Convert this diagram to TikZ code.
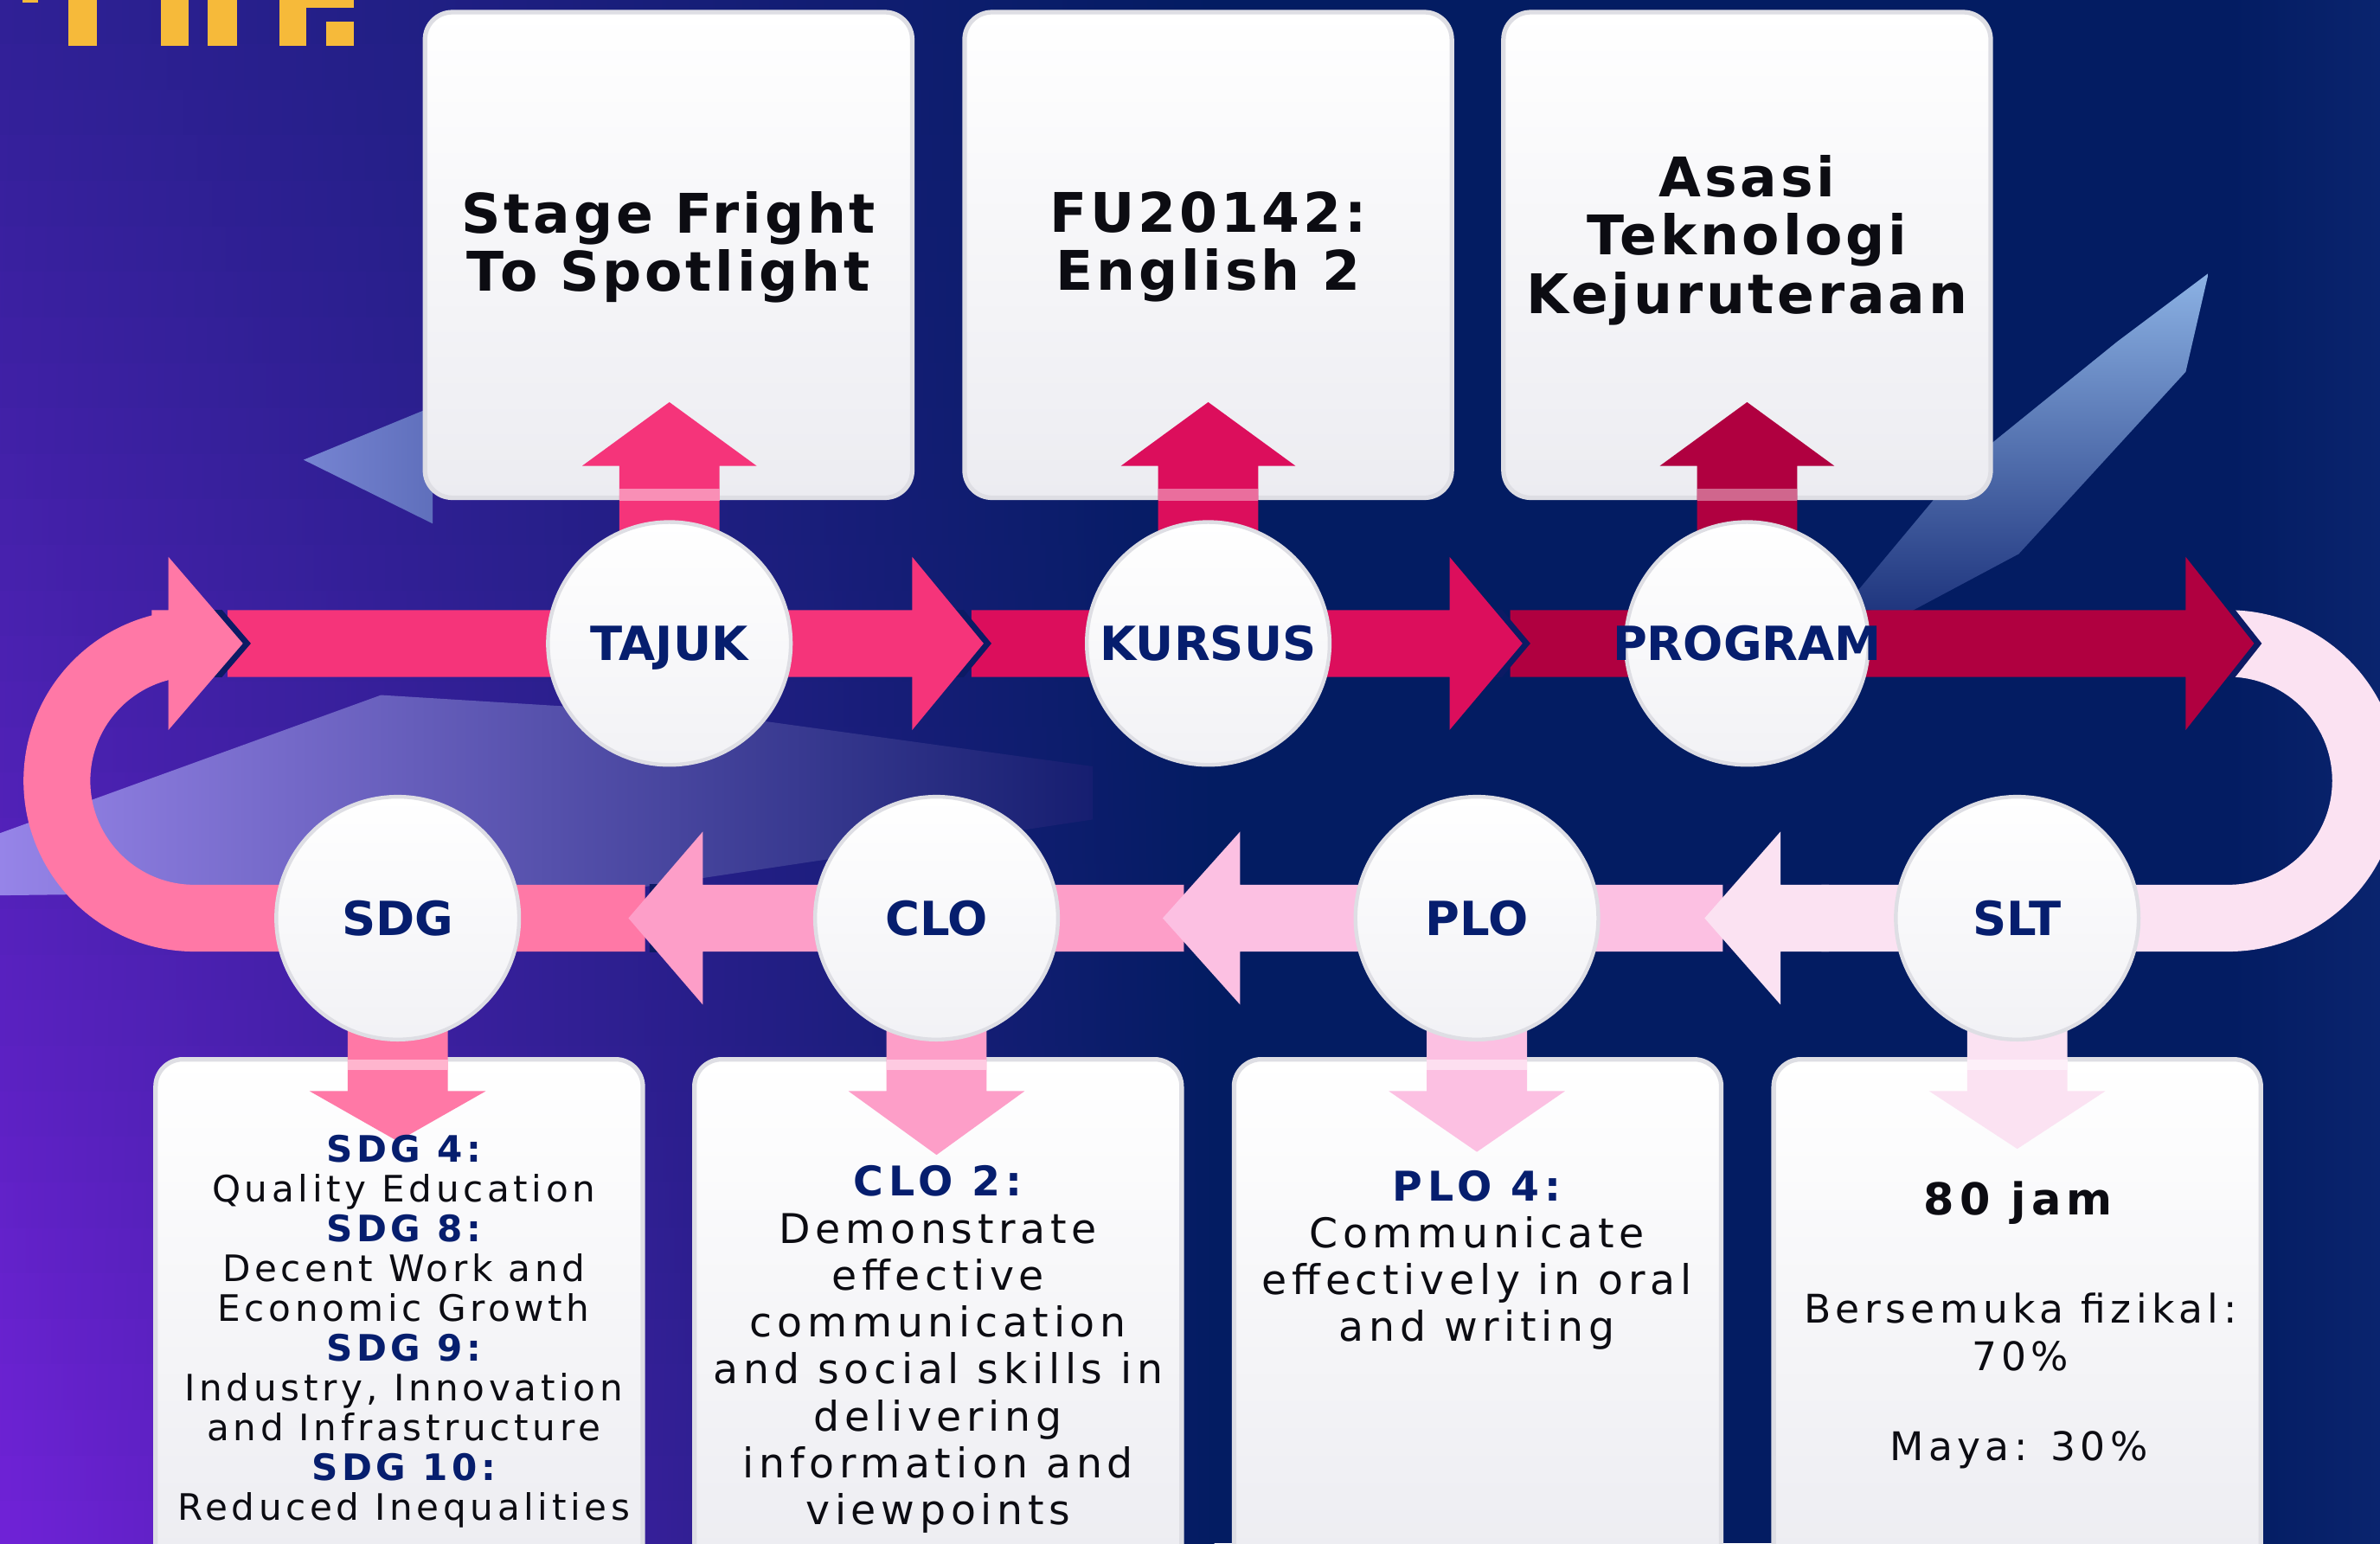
\documentclass[tikz,border=0pt]{standalone}
\usepackage{fontspec}
\setmainfont{DejaVu Sans}
\newfontfamily\titlefont[LetterSpace=6]{DejaVu Sans}
\newfontfamily\bodyfont[LetterSpace=11]{DejaVu Sans}
\newfontfamily\bodyfontw[LetterSpace=12]{DejaVu Sans}
\usetikzlibrary{calc}
\definecolor{bgnavy}{RGB}{3,28,98}
\definecolor{bgtop}{RGB}{48,32,150}
\definecolor{bgbot}{RGB}{112,34,215}
\definecolor{gapc}{RGB}{12,26,100}
\definecolor{sa}{RGB}{245,52,122}
\definecolor{sb}{RGB}{220,14,92}
\definecolor{sc}{RGB}{176,0,64}
\definecolor{sd}{RGB}{251,226,242}
\definecolor{se}{RGB}{252,192,226}
\definecolor{sf}{RGB}{253,158,200}
\definecolor{sg}{RGB}{255,120,166}
\definecolor{navytext}{RGB}{6,30,110}
\definecolor{ink}{RGB}{12,12,18}
\definecolor{goldbar}{RGB}{246,186,58}
\definecolor{bandleft}{RGB}{150,132,232}
\definecolor{bandright}{RGB}{22,30,112}
\definecolor{beamtop}{RGB}{140,178,228}
\definecolor{beambot}{RGB}{30,52,125}
\definecolor{wedge}{RGB}{118,132,210}
\definecolor{cardrim}{RGB}{222,222,228}
\definecolor{cardlow}{RGB}{236,236,241}
\definecolor{rightedge}{RGB}{10,36,110}
\newcommand\navhl[1]{{\bfseries\color{navytext}#1}}
% band segment: colour, start x, head base x, tip x, centre y
\newcommand\bandseg[5]{%
  \begin{scope}
    \clip (#3-12,#5-22) rectangle (#4+14,#5+22);
    \draw[gapc, line width=8pt, line join=miter] (#3,#5-57) -- (#4,#5) -- (#3,#5+57);
  \end{scope}
  \fill[#1] (#2,#5-22) -- (#3,#5-22) -- (#3,#5-57) -- (#4,#5) -- (#3,#5+57) -- (#3,#5+22) -- (#2,#5+22) -- cycle;}
\newcommand\uparr[3]{%
  \begin{scope}[shift={(#1)}]
    \fill[#2] (-33,0) -- (-33,-117) -- (-57.5,-117) -- (0,-159) -- (57.5,-117) -- (33,-117) -- (33,0) -- cycle;
    \fill[#3] (-33,-102) rectangle (33,-94);
  \end{scope}}
\newcommand\downarr[4]{%
  \begin{scope}[shift={(#1)}]
    \fill[#2] (-33,0) -- (-33,114) -- (-58,114) -- (0,#4) -- (58,114) -- (33,114) -- (33,0) -- cycle;
    \fill[#3] (-33,93) rectangle (33,100);
  \end{scope}}
\tikzset{
  card/.style={rounded corners=18pt, draw=cardrim, line width=3pt, top color=white, bottom color=cardlow, minimum width=321pt, inner sep=0pt},
  hub/.style={circle, minimum size=160pt, inner sep=0pt, draw=cardrim, line width=2.5pt, top color=white, bottom color=cardlow!70!white},
  hublabel/.style={font=\bfseries\fontsize{31}{31}\selectfont, text=navytext, inner sep=0pt, text height=22.6pt, text depth=0pt},
  headtext/.style={font=\titlefont\bfseries\fontsize{36}{38.5}\selectfont, text=ink, align=center, inner sep=0pt, anchor=north},
  sdgtext/.style={font=\bodyfont\fontsize{24}{26.2}\selectfont, text=ink, align=center, inner sep=0pt, anchor=north},
  outtext/.style={font=\bodyfontw\fontsize{27}{30.9}\selectfont, text=ink, align=center, inner sep=0pt, anchor=north},
  slttext/.style={font=\bodyfontw\fontsize{26}{30.9}\selectfont, text=ink, align=center, inner sep=0pt}
}
\begin{document}
\begin{tikzpicture}[x=1pt,y=-1pt]
\useasboundingbox (0,0) rectangle (1568,1017);
\clip (0,0) rectangle (1568,1017);
% background
\fill[bgnavy] (0,0) rectangle (1568,1017);
\foreach \i in {0,...,33}{
  \pgfmathsetmacro\pp{\i*3}
  \colorlet{stripleft}{bgbot!\pp!bgtop}
  \shade[left color=stripleft, right color=bgnavy] (0,{\i*30-0.6}) rectangle (800,{\i*30+30.6});
}
\shade[left color=bgnavy, right color=rightedge] (1470,0) rectangle (1568,1017);
% decorative light shapes
\shade[left color=bandleft, right color=bandright] (0,549) -- (251,458) -- (480,472) -- (720,505) -- (720,540) -- (420,585) -- (0,590) -- cycle;
\shade[left color=wedge, right color=wedge!80!bgnavy] (200,303) -- (285,268) -- (285,345) -- cycle;
\shade[top color=beamtop, bottom color=beambot] (1455,180) -- (1440,245) -- (1330,365) -- (1255,405) -- (1215,400) -- (1290,310) -- (1395,225) -- cycle;
% yellow letter fragments (cut by the top edge)
\fill[goldbar] (45,0) rectangle (64,30);
\fill[goldbar] (106,0) rectangle (124,30);
\fill[goldbar] (137,0) rectangle (156,30);
\fill[goldbar] (184,0) rectangle (202,30);
\fill[goldbar] (184,0) rectangle (233,5);
\fill[goldbar] (215,14) rectangle (233,30);
\fill[goldbar] (15,0) rectangle (25,1.5);
% cards
\node[card, minimum height=320pt] (b1) at (440.5,168) {};
\node[card, minimum height=320pt] (b2) at (796,168) {};
\node[card, minimum height=320pt] (b3) at (1151,168) {};
\node[card, minimum height=342pt] (d1) at (263,869) {};
\node[card, minimum height=342pt] (d2) at (618,869) {};
\node[card, minimum height=342pt] (d3) at (973.5,869) {};
\node[card, minimum height=342pt] (d4) at (1329,869) {};
% hub positions
\coordinate (p1) at (441,424);
\coordinate (p2) at (796,424);
\coordinate (p3) at (1151,424);
\coordinate (q1) at (262,605);
\coordinate (q2) at (617,605);
\coordinate (q3) at (973,605);
\coordinate (q4) at (1329,605);
% vertical arrows
\uparr{p1}{sa}{sa!55!white}
\uparr{p2}{sb}{sb!60!white}
\uparr{p3}{sc}{sc!60!white}
\downarr{q1}{sg}{sg!55!white}{147}
\downarr{q2}{sf}{sf!55!white}{156}
\downarr{q3}{se}{se!50!white}{154}
\downarr{q4}{sd}{sd!50!white}{152}
% pipeline
\draw[sg, line width=44pt] (425,605) -- (128,605) arc[start angle=90, end angle=270, radius=90.5] -- (136,424);
\bandseg{sf}{780}{463}{414}{605}
\bandseg{se}{1135}{817}{766}{605}
\draw[sd, line width=44pt] (1452,424) -- (1468,424) arc[start angle=270, end angle=450, radius=90.5] -- (1200,605);
\bandseg{sd}{1205}{1173}{1123}{605}
\bandseg{sc}{995}{1440}{1485}{424}
\bandseg{sb}{640}{955}{1003}{424}
\bandseg{sa}{150}{601}{648}{424}
\bandseg{sg}{100}{111}{160}{424}
% hubs
\node[hub] (c1) at (p1) {};
\node[hub] (c2) at (p2) {};
\node[hub] (c3) at (p3) {};
\node[hub] (e1) at (q1) {};
\node[hub] (e2) at (q2) {};
\node[hub] (e3) at (q3) {};
\node[hub] (e4) at (q4) {};
\node[hublabel] (l1) at (c1) {TAJUK};
\node[hublabel] (l2) at (c2) {KURSUS};
\node[hublabel] (l3) at (c3) {PROGRAM};
\node[hublabel] (m1) at (e1) {SDG};
\node[hublabel] (m2) at (e2) {CLO};
\node[hublabel] (m3) at (e3) {PLO};
\node[hublabel] (m4) at (e4) {SLT};
% card texts
\node[headtext] (t1) at (440.5,126) {Stage Fright\\To Spotlight};
\node[headtext] (t2) at (796,126) {FU20142:\\English 2};
\node[headtext] (t3) at (1151,102) {Asasi\\Teknologi\\Kejuruteraan};
\node[sdgtext] (u1) at (266,748) {\navhl{SDG 4:}\\Quality Education\\\navhl{SDG 8:}\\Decent Work and\\Economic Growth\\\navhl{SDG 9:}\\Industry, Innovation\\and Infrastructure\\\navhl{SDG 10:}\\Reduced Inequalities};
\node[outtext] (u2) at (618,768) {\navhl{CLO 2:}\\Demonstrate\\effective\\communication\\and social skills in\\delivering\\information and\\viewpoints};
\node[outtext] (u3) at (973,771) {\navhl{PLO 4:}\\Communicate\\effectively in oral\\and writing};
\node[slttext, font=\bodyfontw\bfseries\fontsize{29}{30}\selectfont, anchor=base] (u4) at (1329.5,800.5) {80 jam};
\node[slttext, anchor=north] (u5) at (1331,852) {Bersemuka fizikal:\\70\%};
\node[slttext, anchor=base] (u6) at (1330,962.5) {Maya: 30\%};
\end{tikzpicture}
\end{document}
